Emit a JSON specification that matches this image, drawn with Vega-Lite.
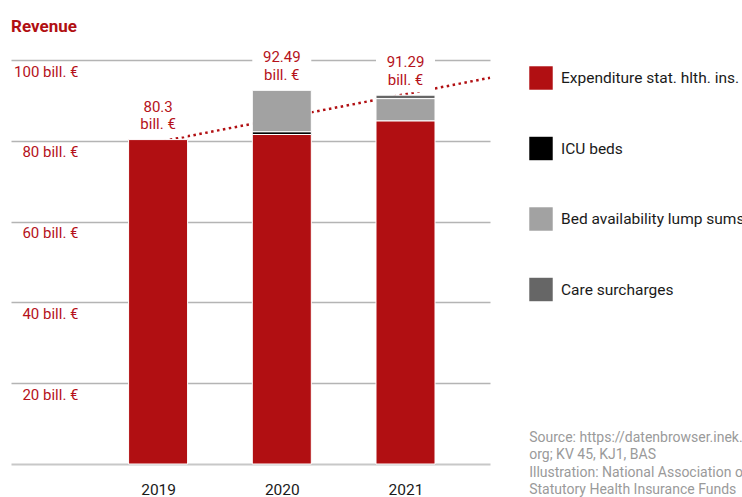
{
  "$schema": "https://vega.github.io/schema/vega-lite/v6.json",
  "width": 479,
  "height": 404,
  "autosize": {"type": "none"},
  "padding": {"left": 11, "top": 60, "right": 252, "bottom": 33},
  "background": "white",
  "title": {
    "text": "Revenue",
    "anchor": "start",
    "frame": "group",
    "orient": "top",
    "offset": 1,
    "baseline": "alphabetic",
    "font": "Roboto",
    "fontSize": 17,
    "fontWeight": "bold",
    "color": "#B10F12"
  },
  "config": {"view": {"stroke": null}, "font": "Roboto"},
  "datasets": {
    "segments": [
      {"year": 2019, "category": "Expenditure stat. hlth. ins.", "value": 80.3},
      {"year": 2020, "category": "Expenditure stat. hlth. ins.", "value": 81.56},
      {"year": 2020, "category": "ICU beds", "value": 0.69},
      {"year": 2020, "category": "Bed availability lump sums", "value": 10.24},
      {"year": 2021, "category": "Expenditure stat. hlth. ins.", "value": 84.95},
      {"year": 2021, "category": "Bed availability lump sums", "value": 5.5},
      {"year": 2021, "category": "Care surcharges", "value": 0.84}
    ],
    "totals": [
      {"year": 2019, "total": 80.3},
      {"year": 2020, "total": 92.49},
      {"year": 2021, "total": 91.29}
    ],
    "trend": [
      {"year": 2019, "value": 79.7},
      {"year": 2021.683, "value": 95.6}
    ]
  },
  "layer": [
    {
      "data": {"name": "trend"},
      "mark": {"type": "line", "color": "#B10F12", "strokeWidth": 2.5, "strokeDash": [2.5, 3.5]},
      "encoding": {
        "x": {
          "field": "year", "type": "quantitative",
          "scale": {"domain": [2017.811, 2021.683], "nice": false, "zero": false, "padding": 0},
          "axis": {
            "values": [2019, 2020, 2021], "format": "d", "grid": false, "ticks": false,
            "domainColor": "#c8c8c8", "domainWidth": 2, "labelPadding": 18,
            "labelBaseline": "top", "labelFontSize": 15.5, "labelColor": "#1a1a1a",
            "labelFont": "Roboto", "title": null, "labelFlush": false
          }
        },
        "y": {
          "field": "value", "type": "quantitative",
          "scale": {"domain": [0, 100], "nice": false, "padding": 0},
          "axis": {
            "values": [20, 40, 60, 80, 100], "grid": true, "gridColor": "#b4b4b4", "gridWidth": 1.5,
            "domain": false, "ticks": false, "tickSize": 0, "labelPadding": -67,
            "labelAlign": "right", "labelBaseline": "top", "labelOffset": 4,
            "labelExpr": "datum.value + ' bill. €'", "labelColor": "#B5121B",
            "labelFontSize": 15, "labelFont": "Roboto", "title": null
          }
        }
      }
    },
    {
      "data": {"name": "totals"},
      "mark": {"type": "bar", "size": 59, "color": "white", "yOffset": -3, "y2Offset": -40},
      "encoding": {
        "x": {"field": "year", "type": "quantitative"},
        "y": {"field": "total", "type": "quantitative"},
        "y2": {"field": "total"}
      }
    },
    {
      "data": {"name": "segments"},
      "transform": [
        {"calculate": "indexof(['Expenditure stat. hlth. ins.', 'ICU beds', 'Bed availability lump sums', 'Care surcharges'], datum.category)", "as": "stackOrder"}
      ],
      "mark": {"type": "bar", "size": 59, "stroke": "white", "strokeWidth": 1},
      "encoding": {
        "x": {"field": "year", "type": "quantitative"},
        "y": {"field": "value", "type": "quantitative", "stack": "zero"},
        "order": {"field": "stackOrder", "type": "quantitative", "sort": "ascending"},
        "color": {
          "field": "category", "type": "nominal",
          "sort": ["Expenditure stat. hlth. ins.", "ICU beds", "Bed availability lump sums", "Care surcharges"],
          "scale": {
            "domain": ["Expenditure stat. hlth. ins.", "ICU beds", "Bed availability lump sums", "Care surcharges"],
            "range": ["#B10F12", "#000000", "#a2a2a2", "#666666"]
          },
          "legend": {
            "orient": "none", "legendX": 518, "legendY": 6, "title": null,
            "symbolType": "square", "symbolSize": 550, "symbolStrokeWidth": 0,
            "labelFontSize": 15.5, "labelFont": "Roboto", "labelColor": "#1a1a1a",
            "labelOffset": 8, "rowPadding": 46.5, "labelLimit": 400, "padding": 0
          }
        }
      }
    },
    {
      "data": {"name": "totals"},
      "mark": {"type": "text", "baseline": "alphabetic", "dy": -28, "fontSize": 15, "font": "Roboto", "color": "#B5121B"},
      "encoding": {
        "x": {"field": "year", "type": "quantitative"},
        "y": {"field": "total", "type": "quantitative"},
        "text": {"field": "total", "type": "nominal"}
      }
    },
    {
      "data": {"name": "totals"},
      "mark": {"type": "text", "baseline": "alphabetic", "dy": -10.5, "fontSize": 15, "font": "Roboto", "color": "#B5121B"},
      "encoding": {
        "x": {"field": "year", "type": "quantitative"},
        "y": {"field": "total", "type": "quantitative"},
        "text": {"value": "bill. €"}
      }
    },
    {
      "data": {"values": [{}]},
      "mark": {"type": "text", "align": "left", "baseline": "alphabetic", "fontSize": 14, "font": "Roboto", "color": "#9a9a9a", "lineHeight": 17.5},
      "encoding": {
        "x": {"datum": 2022, "type": "quantitative"},
        "y": {"datum": 5.45, "type": "quantitative"},
        "text": {"value": ["Source: https://datenbrowser.inek.", "org; KV 45, KJ1, BAS", "Illustration: National Association of", "Statutory Health Insurance Funds"]}
      }
    }
  ]
}
